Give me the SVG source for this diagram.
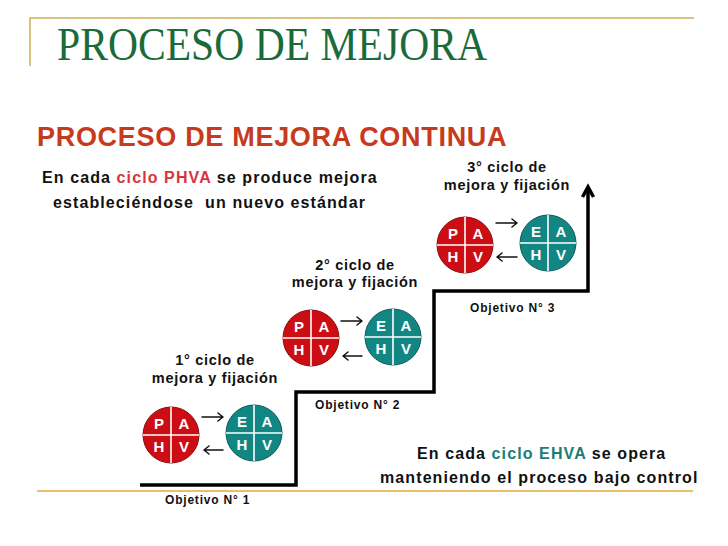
<svg xmlns="http://www.w3.org/2000/svg" width="728" height="546" viewBox="0 0 728 546">
  <style>
    .sans { font-family: "Liberation Sans", Arial, sans-serif; font-weight: bold; }
    .lbl { font-size: 14.5px; letter-spacing: 0.7px; fill: #111; text-anchor: middle; }
    .obj { font-size: 12px; letter-spacing: 0.8px; fill: #111; }
    .body { font-size: 16px; letter-spacing: 1.1px; fill: #111; }
    .red { fill: #cc0d14; stroke: #8e0a0a; stroke-width: 1; }
    .teal { fill: #128682; stroke: #0b5b58; stroke-width: 1; }
    .div { stroke: #ffffff; stroke-width: 1.6; }
    .let { font-size: 15px; fill: #ffffff; text-anchor: middle; }
    .arr { fill: none; stroke: #111; stroke-width: 1.5; stroke-linecap: round; stroke-linejoin: round; }
    .stair { fill: none; stroke: #000; stroke-width: 3.5; stroke-linejoin: miter; }
  </style>
  <defs>
    <g id="quad">
      <line class="div" x1="-28" y1="0" x2="28" y2="0"/>
      <line class="div" x1="0" y1="-28" x2="0" y2="28"/>
    </g>
  </defs>
  <rect width="728" height="546" fill="#ffffff"/>

  <!-- header frame -->
  <g id="frame">
    <path d="M30 66 V18 H694" fill="none" stroke="#cdb058" stroke-width="1.5"/>
    <line x1="37" y1="491" x2="693" y2="491" stroke="#e2a73a" stroke-width="1.5"/>
  </g>

  <text x="57" y="60" font-family="'Liberation Serif', 'Times New Roman', serif" font-size="47" fill="#1b6b3a" textLength="430" lengthAdjust="spacingAndGlyphs">PROCESO DE MEJORA</text>

  <text class="sans" x="37" y="146" font-size="27" letter-spacing="0.7" fill="#c63a1e">PROCESO DE MEJORA CONTINUA</text>

  <text class="sans body" x="42" y="183">En cada <tspan fill="#d8343c">ciclo PHVA</tspan> se produce mejora</text>
  <text class="sans body" x="53" y="208" xml:space="preserve">estableciéndose  un nuevo estándar</text>

  <!-- staircase -->
  <g id="staircase">
    <path class="stair" d="M140 485 H296 V392 H434 V291 H588 V187"/>
    <path class="stair" d="M582.5 197 L588 187 L593.5 197" stroke-width="2.8"/>
  </g>

  <!-- cycle labels -->
  <g id="label-1">
    <text class="sans lbl" x="215" y="365">1° ciclo de</text>
    <text class="sans lbl" x="215" y="383">mejora y fijación</text>
  </g>
  <g id="label-2">
    <text class="sans lbl" x="355" y="270">2° ciclo de</text>
    <text class="sans lbl" x="355" y="287">mejora y fijación</text>
  </g>
  <g id="label-3">
    <text class="sans lbl" x="507" y="172">3° ciclo de</text>
    <text class="sans lbl" x="507" y="190">mejora y fijación</text>
  </g>

  <!-- cycle 1 -->
  <g id="phva-1" transform="translate(171,435)">
    <circle class="red" r="28"/>
    <use href="#quad"/>
    <text class="sans let" x="-12" y="-6">P</text><text class="sans let" x="13" y="-6">A</text>
    <text class="sans let" x="-12" y="17">H</text><text class="sans let" x="13" y="17">V</text>
  </g>
  <g id="ehva-1" transform="translate(254,433)">
    <circle class="teal" r="28"/>
    <use href="#quad"/>
    <text class="sans let" x="-12" y="-6">E</text><text class="sans let" x="13" y="-6">A</text>
    <text class="sans let" x="-12" y="17">H</text><text class="sans let" x="13" y="17">V</text>
  </g>

  <!-- cycle 2 -->
  <g id="phva-2" transform="translate(311,338)">
    <circle class="red" r="28"/>
    <use href="#quad"/>
    <text class="sans let" x="-12" y="-6">P</text><text class="sans let" x="13" y="-6">A</text>
    <text class="sans let" x="-12" y="17">H</text><text class="sans let" x="13" y="17">V</text>
  </g>
  <g id="ehva-2" transform="translate(393,337)">
    <circle class="teal" r="28"/>
    <use href="#quad"/>
    <text class="sans let" x="-12" y="-6">E</text><text class="sans let" x="13" y="-6">A</text>
    <text class="sans let" x="-12" y="17">H</text><text class="sans let" x="13" y="17">V</text>
  </g>

  <!-- cycle 3 -->
  <g id="phva-3" transform="translate(465,245)">
    <circle class="red" r="28"/>
    <use href="#quad"/>
    <text class="sans let" x="-12" y="-6">P</text><text class="sans let" x="13" y="-6">A</text>
    <text class="sans let" x="-12" y="17">H</text><text class="sans let" x="13" y="17">V</text>
  </g>
  <g id="ehva-3" transform="translate(548,243)">
    <circle class="teal" r="28"/>
    <use href="#quad"/>
    <text class="sans let" x="-12" y="-6">E</text><text class="sans let" x="13" y="-6">A</text>
    <text class="sans let" x="-12" y="17">H</text><text class="sans let" x="13" y="17">V</text>
  </g>

  <!-- connectors -->
  <g id="connectors">
    <path class="arr" d="M202 417 H223 M218 413 L223 417 L218 421"/>
    <path class="arr" d="M223 450 H204 M209 446 L204 450 L209 454"/>
    <path class="arr" d="M341 321 H362 M357 317 L362 321 L357 325"/>
    <path class="arr" d="M362 356 H343 M348 352 L343 356 L348 360"/>
    <path class="arr" d="M496 223 H517 M512 219 L517 223 L512 227"/>
    <path class="arr" d="M517 257 H497 M502 253 L497 257 L502 261"/>
  </g>

  <!-- objectives -->
  <text class="sans obj" x="165" y="504">Objetivo N° 1</text>
  <text class="sans obj" x="315" y="409">Objetivo N° 2</text>
  <text class="sans obj" x="470" y="312">Objetivo N° 3</text>

  <text class="sans body" x="417" y="459">En cada <tspan fill="#1a7d76">ciclo EHVA</tspan> se opera</text>
  <text class="sans body" x="380" y="483">manteniendo el proceso bajo control</text>
</svg>
